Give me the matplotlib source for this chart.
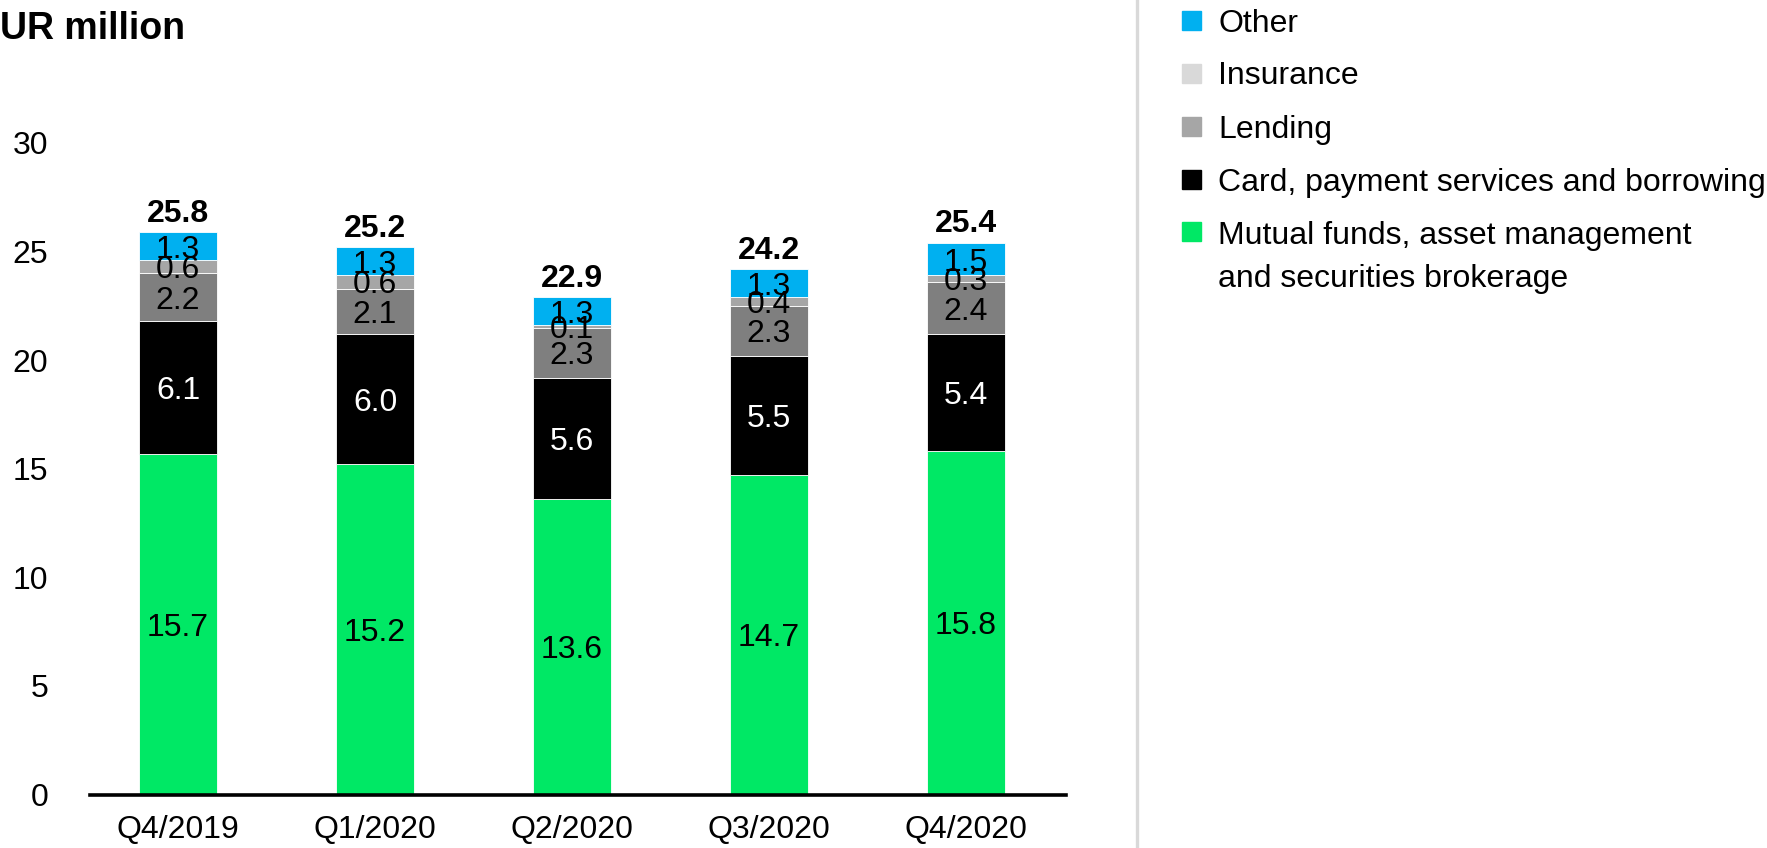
import matplotlib
matplotlib.use("Agg")
import matplotlib.pyplot as plt
from matplotlib.patches import Rectangle
import numpy as np

plt.rcParams['font.family'] = ['Liberation Sans', 'DejaVu Sans']

quarters = ["Q4/2019", "Q1/2020", "Q2/2020", "Q3/2020", "Q4/2020"]
mutual_funds = [15.7, 15.2, 13.6, 14.7, 15.8]
card_payment = [6.1, 6.0, 5.6, 5.5, 5.4]
lending = [2.2, 2.1, 2.3, 2.3, 2.4]
insurance = [0.6, 0.6, 0.1, 0.4, 0.3]
other = [1.3, 1.3, 1.3, 1.3, 1.5]
totals = [25.8, 25.2, 22.9, 24.2, 25.4]

# stacking order bottom -> top: values, bar colour, label colour
segments = [
    (mutual_funds, "#00E865", "black"),
    (card_payment, "#000000", "white"),
    (lending, "#7F7F7F", "black"),
    (insurance, "#A6A6A6", "black"),
    (other, "#00B0F0", "black"),
]

legend_items = [
    ("Other", "#00B0F0"),
    ("Insurance", "#D9D9D9"),
    ("Lending", "#A6A6A6"),
    ("Card, payment services and borrowing", "#000000"),
    ("Mutual funds, asset management\nand securities brokerage", "#00E865"),
]

W, H = 1767, 848
fig = plt.figure(figsize=(W / 100, H / 100), dpi=100)
ax = fig.add_axes([90 / W, 1 - 794.5 / H, (1066 - 90) / W, (794.5 - 143) / H])

x = np.arange(len(quarters))
bottom = np.zeros(len(quarters))
for vals, color, txt_color in segments:
    vals = np.array(vals)
    ax.bar(x, vals, width=0.40, bottom=bottom, color=color,
           edgecolor="white", linewidth=0.6, zorder=2)
    for xi, b, v in zip(x, bottom, vals):
        ax.text(xi, b + v / 2, f"{v:.1f}", ha="center", va="center_baseline",
                fontsize=23, color=txt_color, zorder=3)
    bottom += vals

for xi, top, t in zip(x, bottom, totals):
    ax.annotate(f"{t:.1f}", (xi, top), xytext=(0, 7.5), textcoords="offset points",
                ha="center", va="baseline", fontsize=23, fontweight="bold")

ax.set_xlim(-0.447, 4.508)
ax.set_ylim(0, 30)
ax.set_yticks(np.arange(0, 31, 5))
ax.set_xticks(x)
ax.set_xticklabels(quarters)
ax.tick_params(axis="y", length=0, pad=30, labelsize=23)
ax.tick_params(axis="x", length=0, pad=15, labelsize=23)
for side in ("left", "right", "top"):
    ax.spines[side].set_visible(False)
ax.spines["bottom"].set_linewidth(2.6)
ax.spines["bottom"].set_color("black")
ax.spines["bottom"].set_zorder(4)

fig.text(0, 1 - 25 / H, "UR million", ha="left", va="center_baseline",
         fontsize=27, fontweight="bold")

# divider between chart and legend
fig.add_artist(plt.Line2D([1137 / W, 1137 / W], [0, 1], color="#D9D9D9", lw=2.4))

# legend on the right (pixel rows, from the top)
row_y = [20, 73, 126.5, 179.5, 231.5]
for (label, color), cy in zip(legend_items, row_y):
    fig.add_artist(Rectangle((1182 / W, 1 - (cy + 9.5) / H), 19 / W, 19 / H,
                             color=color, transform=fig.transFigure))
    n_extra = label.count("\n")
    # baseline of the last line
    base = cy + 11.5 + 44 * n_extra
    fig.text(1218 / W, 1 - base / H, label, ha="left", va="baseline",
             fontsize=23, linespacing=1.55)

fig.savefig("out.png", dpi=100)
